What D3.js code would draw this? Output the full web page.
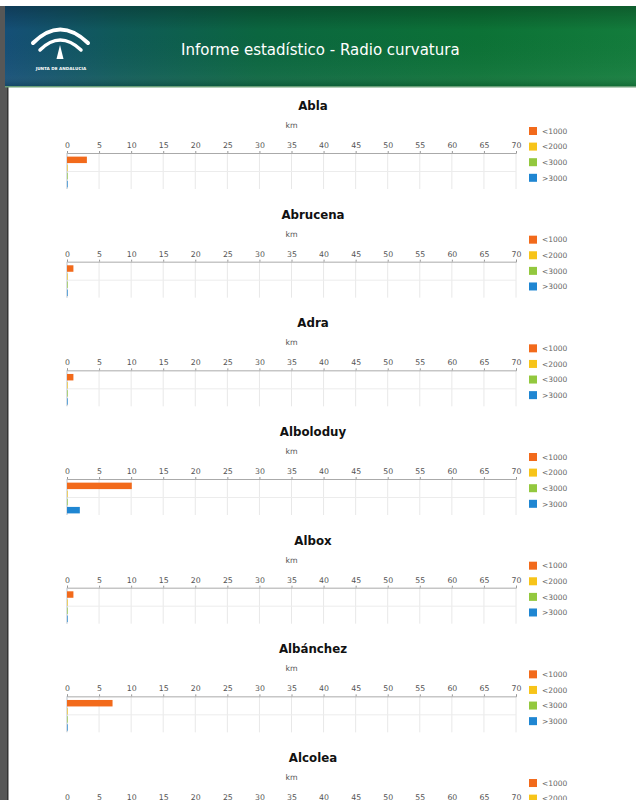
<!DOCTYPE html>
<html><head><meta charset="utf-8">
<script src="https://cdn.jsdelivr.net/npm/d3@7"></script>
<style>html,body{margin:0;padding:0;background:#fff;}svg{display:block;}</style>
</head><body>
<script>
// ---- data ----
const municipios = ["Abla","Abrucena","Adra","Alboloduy","Albox","Albánchez","Alcolea"];
const categorias = ["<1000","<2000","<3000",">3000"];
const km1000  = [3.1, 1.0, 1.0, 10.1, 1.0, 7.1, 2.0];
const km2000  = [0.1, 0.1, 0.1, 0.1, 0.1, 0.1, 0.1];
const km3000  = [0.1, 0.1, 0.1, 0.1, 0.1, 0.1, 0.1];
const km3000p = [0.1, 0.1, 0.1, 2.0, 0.1, 0.1, 0.1];
const xTicks = [0,5,10,15,20,25,30,35,40,45,50,55,60,65,70];
const colores = ["#f26a1b","#f7c419","#93c83e","#1f86d2"];
const tituloInforme = "Informe estadístico - Radio curvatura";

const W = 636, H = 800;
const svg = d3.select("body").append("svg").attr("width", W).attr("height", H);
const font = "'DejaVu Sans', Verdana, sans-serif";

// header
const defs = svg.append("defs");
const g1 = defs.append("linearGradient").attr("id","hdr").attr("x1","0").attr("x2","1").attr("y1","0").attr("y2","0");
[["0%","#154f77"],["18%","#0f5a58"],["40%","#0b6640"],["75%","#0c7236"],["100%","#137c3c"]]
  .forEach(([o,c]) => g1.append("stop").attr("offset",o).attr("stop-color",c));
const g2 = defs.append("linearGradient").attr("id","hdrv").attr("x1","0").attr("x2","0").attr("y1","0").attr("y2","1");
[["0%","#000","0.25"],["30%","#000","0"],["85%","#fff","0.04"],["100%","#000","0.15"]]
  .forEach(([o,c,a]) => g2.append("stop").attr("offset",o).attr("stop-color",c).attr("stop-opacity",a));

svg.append("rect").attr("x",0).attr("y",6).attr("width",7).attr("height",H-6).attr("fill","#575757");
svg.append("rect").attr("x",7).attr("y",86).attr("width",1.5).attr("height",H-86).attr("fill","#333");
svg.append("rect").attr("x",5).attr("y",6).attr("width",W-5).attr("height",81).attr("fill","url(#hdr)");
svg.append("rect").attr("x",5).attr("y",6).attr("width",W-5).attr("height",81).attr("fill","url(#hdrv)");
svg.append("rect").attr("x",5).attr("y",86).attr("width",W-5).attr("height",1.5).attr("fill","#6a9f78");

// logo
const logo = svg.append("g").attr("fill","none").attr("stroke","#fff").attr("stroke-linecap","round");
logo.append("path").attr("d","M33,43 Q60,16 88,43").attr("stroke-width",4);
logo.append("path").attr("d","M40,50 Q60,30 81,50").attr("stroke-width",3.5);
svg.append("path").attr("d","M60,45 L56.5,59 L63.5,59 Z").attr("fill","#fff");
svg.append("text").attr("x",61).attr("y",70).attr("text-anchor","middle")
  .attr("font-family",font).attr("font-size",4.2).attr("fill","#fff").attr("font-weight","bold")
  .text("JUNTA DE ANDALUCIA");
svg.append("text").attr("x",181).attr("y",55).attr("font-family",font).attr("font-size",15)
  .attr("fill","#fff").text(tituloInforme);

// charts
const x = d3.scaleLinear().domain([0,70]).range([67,516]);
const step = 108.67;

municipios.forEach((m, i) => {
  const axisY = 153 + i*step;
  const g = svg.append("g");
  const y = d3.scaleBand().domain(categorias).range([axisY+2, axisY+36]).padding(0.2);
  const vals = [km1000[i], km2000[i], km3000[i], km3000p[i]];

  g.append("text").attr("x",313).attr("y",axisY-43).attr("text-anchor","middle")
    .attr("font-family",font).attr("font-weight","bold").attr("font-size",11.8).attr("fill","#111").text(m);
  g.append("text").attr("x",x(35)).attr("y",axisY-25).attr("text-anchor","middle")
    .attr("font-family",font).attr("font-size",7.8).attr("fill","#555").text("km");

  // gridlines
  g.selectAll("line.gv").data(xTicks.slice(1)).join("line")
    .attr("x1",d=>x(d)).attr("x2",d=>x(d)).attr("y1",axisY).attr("y2",axisY+36)
    .attr("stroke","#e8e8e8").attr("stroke-width",1);
  g.append("line").attr("x1",x(0)).attr("x2",x(70)).attr("y1",axisY+18.5).attr("y2",axisY+18.5)
    .attr("stroke","#ececec");
  g.append("line").attr("x1",x(0)).attr("x2",x(0)).attr("y1",axisY).attr("y2",axisY+36)
    .attr("stroke","#c4ccd4").attr("stroke-width",1.2);

  // bars
  g.selectAll("rect.bar").data(vals).join("rect")
    .attr("x",x(0)).attr("y",(d,k)=>y(categorias[k])).attr("height",y.bandwidth())
    .attr("width",d=>x(d)-x(0)).attr("fill",(d,k)=>colores[k]);

  // top axis
  const ax = g.append("g").attr("transform",`translate(0,${axisY})`)
    .call(d3.axisTop(x).tickValues(xTicks).tickSize(2).tickPadding(3).tickFormat(d3.format("d")));
  ax.select(".domain").attr("stroke","#aaa");
  ax.selectAll(".tick line").attr("stroke","#999");
  ax.selectAll("text").attr("font-family",font).attr("font-size",7.8).attr("fill","#555");

  // legend
  const lg = g.append("g");
  categorias.forEach((c,k) => {
    const ly = axisY - 22 + k*15.6;
    lg.append("rect").attr("x",529).attr("y",ly-4).attr("width",8).attr("height",8).attr("fill",colores[k]);
    lg.append("text").attr("x",542).attr("y",ly+2.7).attr("font-family",font).attr("font-size",7.5)
      .attr("fill","#666").text(c);
  });
});
</script>
</body></html>
